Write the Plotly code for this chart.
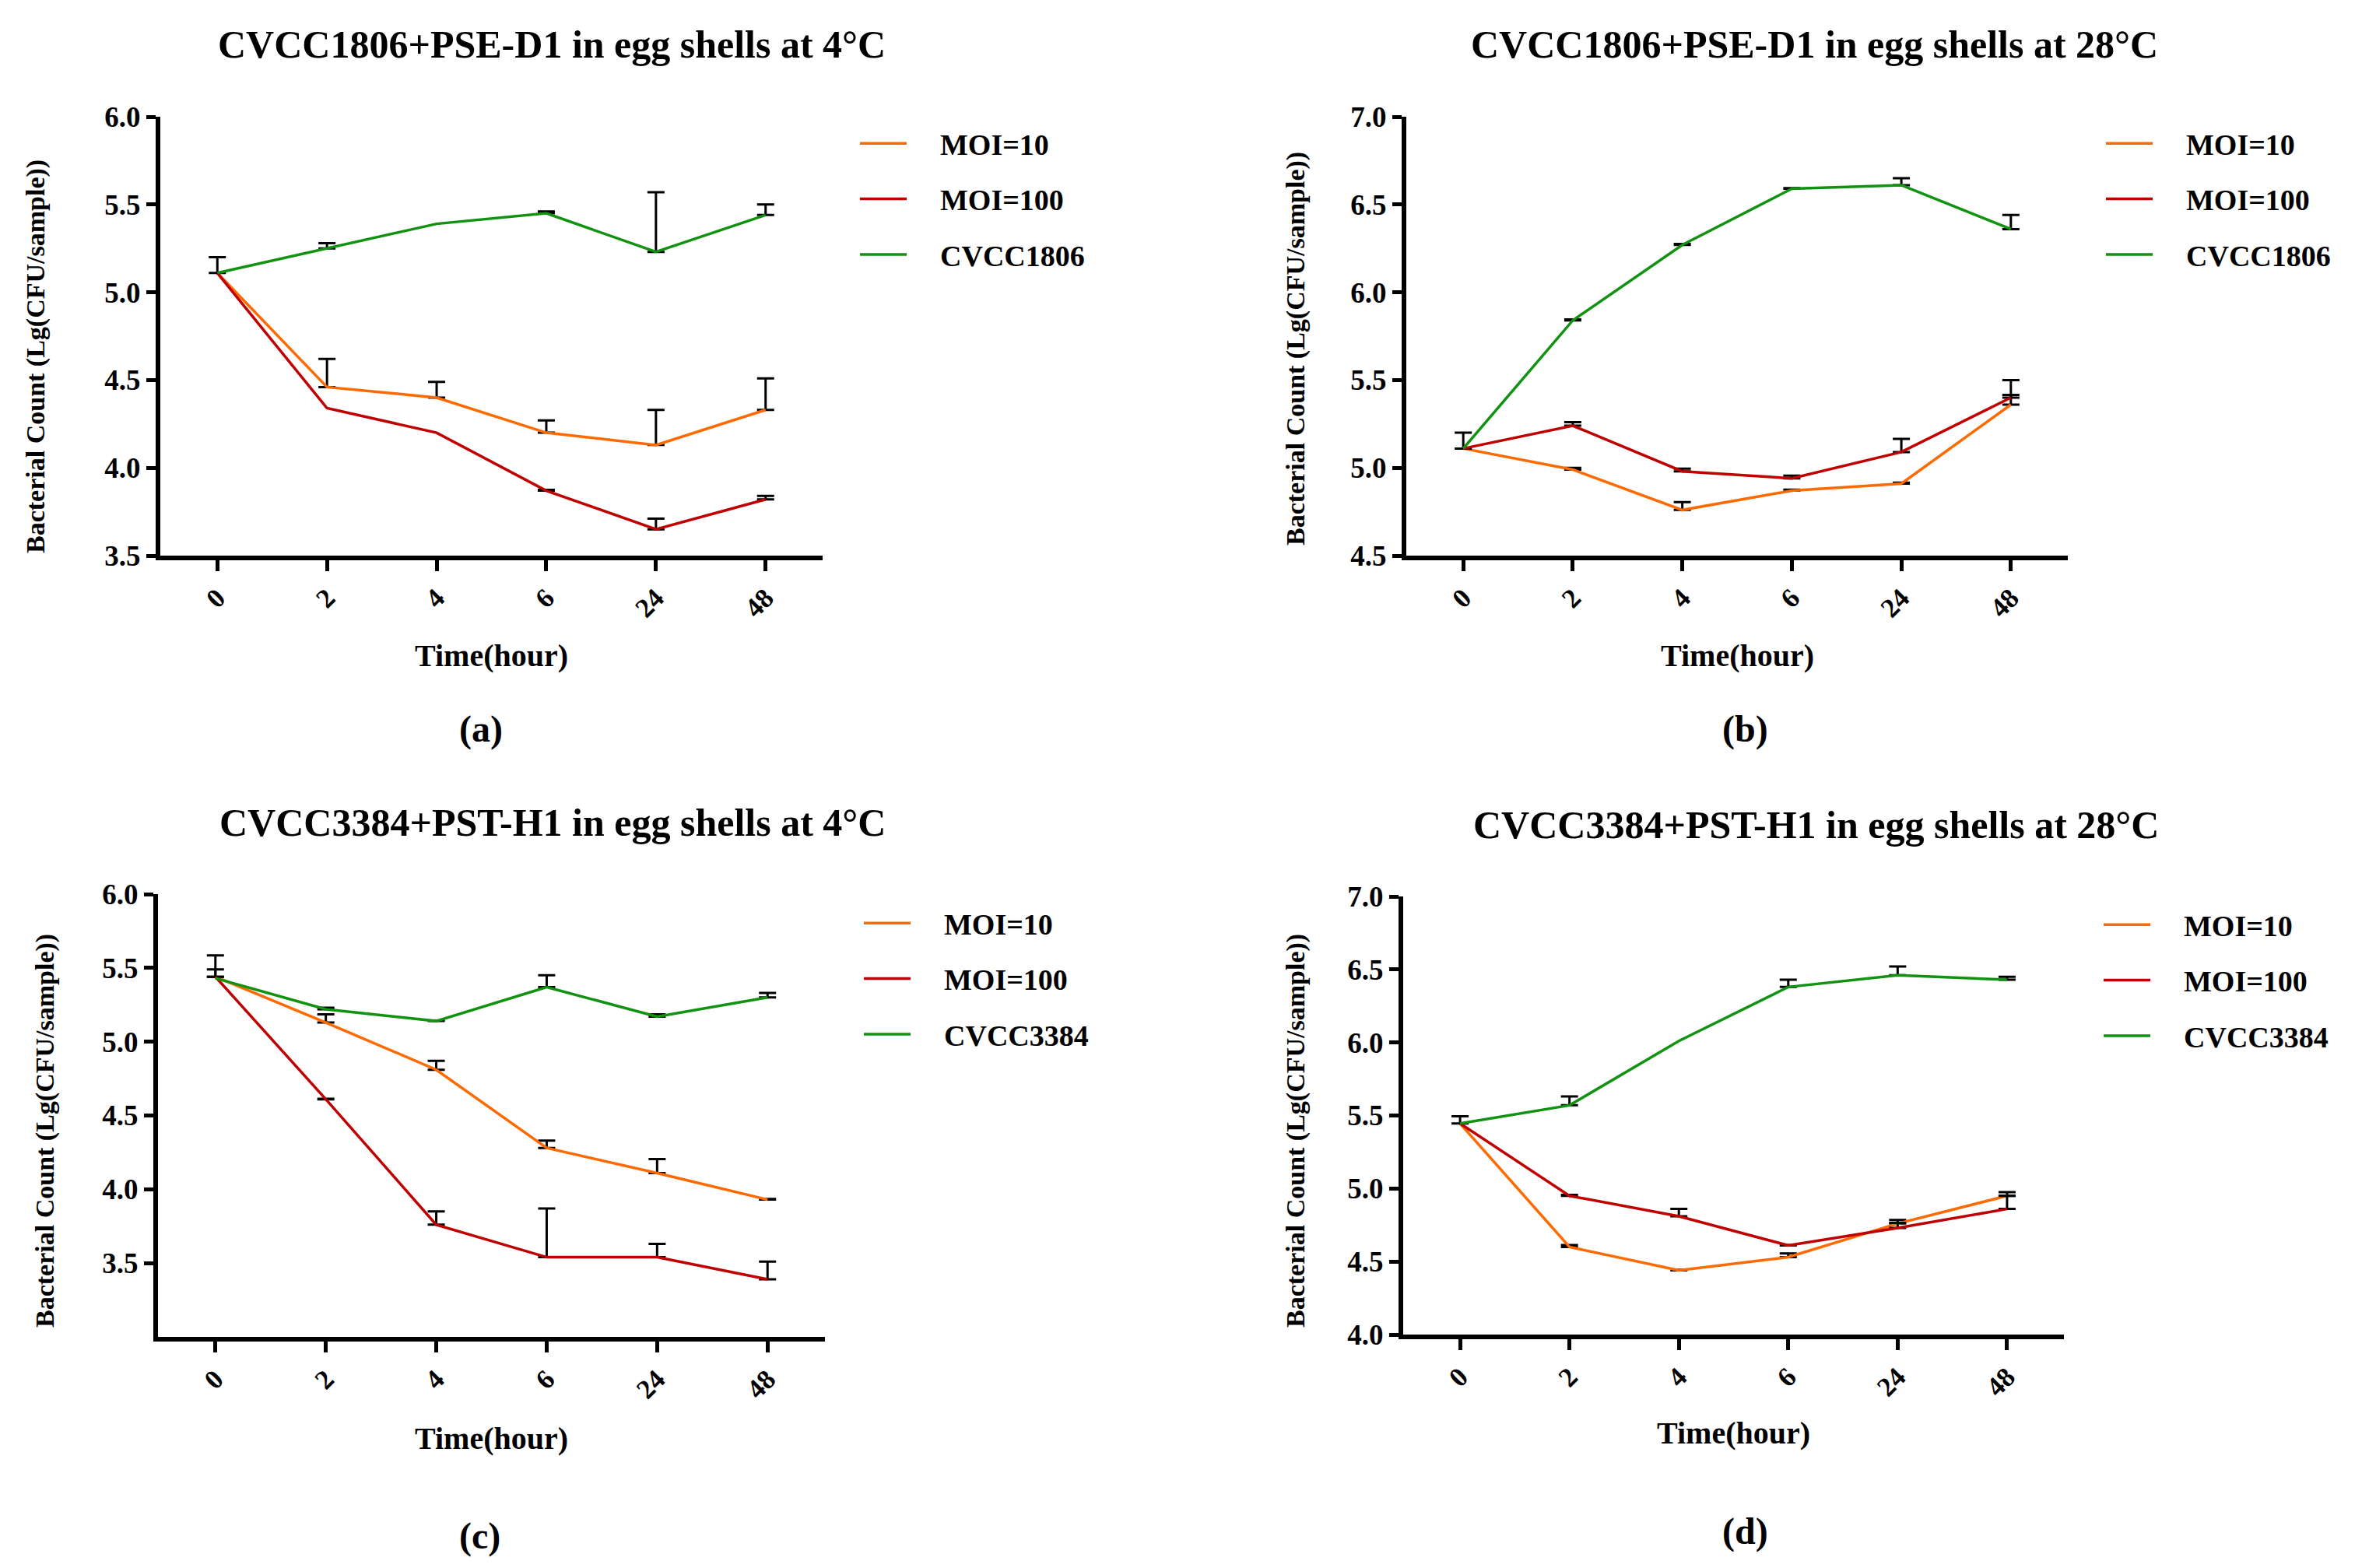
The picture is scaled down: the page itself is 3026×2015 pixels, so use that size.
import plotly.graph_objects as go

W, H = 3026, 2015

times = ["0", "2", "4", "6", "24", "48"]
NA = "NaN"

# Panel (a): CVCC1806+PSE-D1 at 4°C
a_moi10 = [5.11, 4.46, 4.40, 4.20, 4.13, 4.33]
a_moi10_err = [NA, 0.16, 0.09, 0.07, 0.20, 0.18]
a_moi100 = [5.11, 4.34, 4.20, 3.87, 3.65, 3.82]
a_moi100_err = [NA, NA, NA, 0.005, 0.06, 0.02]
a_ctrl = [5.11, 5.25, 5.39, 5.45, 5.23, 5.44]
a_ctrl_err = [0.09, 0.03, NA, 0.01, 0.34, 0.06]

# Panel (b): CVCC1806+PSE-D1 at 28°C
b_moi10 = [5.11, 4.99, 4.76, 4.87, 4.91, 5.36]
b_moi10_err = [NA, 0.01, 0.045, 0.006, 0.006, 0.055]
b_moi100 = [5.11, 5.24, 4.98, 4.94, 5.09, 5.40]
b_moi100_err = [0.09, 0.02, 0.015, 0.015, 0.075, 0.10]
b_ctrl = [5.11, 5.84, 6.27, 6.59, 6.61, 6.36]
b_ctrl_err = [NA, 0.005, 0.005, 0.003, 0.04, 0.08]

# Panel (c): CVCC3384+PST-H1 at 4°C
c_moi10 = [5.44, 5.13, 4.81, 4.28, 4.11, 3.93]
c_moi10_err = [0.145, 0.055, 0.06, 0.05, 0.095, 0.005]
c_moi100 = [5.44, 4.61, 3.76, 3.54, 3.54, 3.39]
c_moi100_err = [0.05, 0.003, 0.09, 0.33, 0.09, 0.12]
c_ctrl = [5.43, 5.22, 5.14, 5.37, 5.17, 5.30]
c_ctrl_err = [NA, 0.01, 0.003, 0.08, 0.015, 0.03]

# Panel (d): CVCC3384+PST-H1 at 28°C
d_moi10 = [5.445, 4.60, 4.44, 4.53, 4.76, 4.95]
d_moi10_err = [NA, 0.013, 0.003, 0.025, 0.025, 0.025]
d_moi100 = [5.445, 4.95, 4.81, 4.61, 4.73, 4.86]
d_moi100_err = [0.05, 0.007, 0.05, 0.003, 0.035, 0.09]
d_ctrl = [5.445, 5.57, 6.01, 6.38, 6.46, 6.43]
d_ctrl_err = [NA, 0.06, NA, 0.05, 0.06, 0.02]

titles = ["CVCC1806+PSE-D1 in egg shells at 4°C",
          "CVCC1806+PSE-D1 in egg shells at 28°C",
          "CVCC3384+PST-H1 in egg shells at 4°C",
          "CVCC3384+PST-H1 in egg shells at 28°C"]
panel_labels = ["(a)", "(b)", "(c)", "(d)"]
ctrl_names = ["CVCC1806", "CVCC1806", "CVCC3384", "CVCC3384"]
y_ranges = [(3.5, 6.0), (4.5, 7.0), (3.0, 6.0), (4.0, 7.0)]
y_ticks = [[3.5, 4.0, 4.5, 5.0, 5.5, 6.0],
           [4.5, 5.0, 5.5, 6.0, 6.5, 7.0],
           [3.5, 4.0, 4.5, 5.0, 5.5, 6.0],
           [4.0, 4.5, 5.0, 5.5, 6.0, 6.5, 7.0]]
x_title = "Time(hour)"
y_title = "Bacterial Count (Lg(CFU/sample))"
series_names = ["MOI=10", "MOI=100"]

panels = [
    (a_moi10, a_moi10_err, a_moi100, a_moi100_err, a_ctrl, a_ctrl_err),
    (b_moi10, b_moi10_err, b_moi100, b_moi100_err, b_ctrl, b_ctrl_err),
    (c_moi10, c_moi10_err, c_moi100, c_moi100_err, c_ctrl, c_ctrl_err),
    (d_moi10, d_moi10_err, d_moi100, d_moi100_err, d_ctrl, d_ctrl_err),
]

COL_ORANGE = "#FF6A00"
COL_RED = "#C00000"
COL_GREEN = "#119211"
FONT = "Liberation Serif"
PAD = "\u00a0\u00a0\u00a0\u00a0"  # gap between legend line and text

# pixel geometry: (left, right, top, bottom)
boxes = [(206, 1057, 150, 714), (1807, 2657, 150, 714),
         (203, 1060, 1149, 1718), (1803, 2652, 1152, 1715)]
title_pos = [(709, 57), (2331, 57), (710, 1057), (2333, 1060)]
xtitle_pos = [(631, 842), (2232, 842), (631, 1848), (2227, 1841)]
label_pos = [(618, 937), (2242, 937), (616, 1974), (2242, 1968)]
ytitle_pos = [(46, 458), (1665, 448), (58, 1453), (1665, 1453)]
legend_pos = [(1100, 153), (2701, 153), (1105, 1155), (2698, 1157)]


def px_x(v):
    return v / W


def px_y(v):
    return 1 - v / H


fig = go.Figure()
annotations = []
layout = {}

for i, (m10, m10e, m100, m100e, ctl, ctle) in enumerate(panels):
    n = "" if i == 0 else str(i + 1)
    xa, ya = "x" + n, "y" + n
    lg = "legend" + n
    for name, vals, errs, col in [(series_names[0], m10, m10e, COL_ORANGE),
                                  (series_names[1], m100, m100e, COL_RED),
                                  (ctrl_names[i], ctl, ctle, COL_GREEN)]:
        fig.add_trace(go.Scatter(
            x=times, y=vals, name=PAD + name, mode="lines",
            line=dict(color=col, width=3.5),
            error_y=dict(type="data", symmetric=False, array=errs,
                         color="black", thickness=3, width=11),
            xaxis=xa, yaxis=ya, legend=lg, legendgroup=lg + name,
        ))
    l, r, t, b = boxes[i]
    layout["xaxis" + n] = dict(
        domain=[px_x(l), px_x(r)], anchor=ya, type="category",
        range=[-0.52, 5.52], showgrid=False, zeroline=False,
        showline=True, linewidth=6, linecolor="black", automargin=False,
        ticks="outside", ticklen=14, tickwidth=5, tickcolor="black",
        tickangle=-45,
        tickfont=dict(family=FONT, size=35, color="black", weight="bold"),
    )
    layout["yaxis" + n] = dict(
        domain=[px_y(b), px_y(t)], anchor=xa, range=list(y_ranges[i]),
        tickvals=y_ticks[i], ticktext=["%.1f" % v for v in y_ticks[i]],
        showgrid=False, zeroline=False, automargin=False,
        showline=True, linewidth=6, linecolor="black",
        ticks="outside", ticklen=12, tickwidth=5, tickcolor="black",
        tickfont=dict(family=FONT, size=37, color="black", weight="bold"),
    )
    lx, ly = legend_pos[i]
    layout[lg] = dict(
        x=px_x(lx), y=px_y(ly), xanchor="left", yanchor="top",
        bgcolor="rgba(0,0,0,0)", borderwidth=0,
        font=dict(family=FONT, size=38, color="black", weight="bold"),
        itemwidth=60, tracegroupgap=19, traceorder="grouped",
    )
    tx, ty = title_pos[i]
    annotations.append(dict(text=titles[i], x=px_x(tx), y=px_y(ty),
                            xref="paper", yref="paper", showarrow=False,
                            xanchor="center", yanchor="middle",
                            font=dict(family=FONT, size=50, color="black", weight="bold")))
    tx, ty = xtitle_pos[i]
    annotations.append(dict(text=x_title, x=px_x(tx), y=px_y(ty),
                            xref="paper", yref="paper", showarrow=False,
                            xanchor="center", yanchor="middle",
                            font=dict(family=FONT, size=40, color="black", weight="bold")))
    tx, ty = label_pos[i]
    annotations.append(dict(text=panel_labels[i], x=px_x(tx), y=px_y(ty),
                            xref="paper", yref="paper", showarrow=False,
                            xanchor="center", yanchor="middle",
                            font=dict(family=FONT, size=48, color="black", weight="bold")))
    tx, ty = ytitle_pos[i]
    annotations.append(dict(text=y_title, x=px_x(tx), y=px_y(ty),
                            xref="paper", yref="paper", showarrow=False,
                            xanchor="center", yanchor="middle", textangle=-90,
                            font=dict(family=FONT, size=34, color="black", weight="bold")))

fig.update_layout(
    width=W, height=H, margin=dict(l=0, r=0, t=0, b=0, pad=0),
    paper_bgcolor="white", plot_bgcolor="white",
    annotations=annotations, **layout,
)

fig.write_html("out.html", config={"displayModeBar": False},
               post_script="document.body.style.margin='0';document.body.style.overflow='hidden';")
